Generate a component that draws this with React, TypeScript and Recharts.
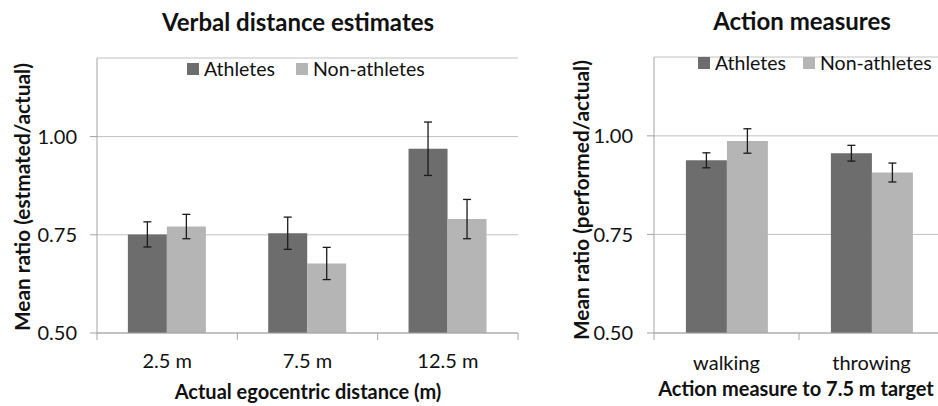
import { BarChart, Bar, XAxis, YAxis, CartesianGrid, ErrorBar, Legend } from "recharts"

const FONT = "Lato, 'Open Sans', sans-serif"
const DARK = "#6d6d6d"
const LIGHT = "#b5b5b5"
const AXIS = "#a3a3a3"
const GRID = "#c2c2c2"

// left panel: verbal estimates
const verbalCategories = ["2.5 m", "7.5 m", "12.5 m"]
const verbalAthletes = [0.751, 0.754, 0.969]
const verbalAthletesErr = [0.032, 0.041, 0.068]
const verbalNonAthletes = [0.771, 0.677, 0.79]
const verbalNonAthletesErr = [0.031, 0.041, 0.05]

// right panel: action measures
const actionCategories = ["walking", "throwing"]
const actionAthletes = [0.938, 0.956]
const actionAthletesErr = [0.019, 0.02]
const actionNonAthletes = [0.987, 0.907]
const actionNonAthletesErr = [0.031, 0.024]

const yTicks = [0.5, 0.75, 1.0]
const yDomain = [0.5, 1.2]

function buildRows(cats, ath, athErr, non, nonErr) {
  return cats.map((name, i) => ({
    name,
    athletes: ath[i],
    athletesErr: athErr[i],
    nonAthletes: non[i],
    nonAthletesErr: nonErr[i],
  }))
}

const verbalRows = buildRows(verbalCategories, verbalAthletes, verbalAthletesErr, verbalNonAthletes, verbalNonAthletesErr)
const actionRows = buildRows(actionCategories, actionAthletes, actionAthletesErr, actionNonAthletes, actionNonAthletesErr)

// category label plus excel-style tick marks at the band edges
function BoundaryTick(props) {
  const { x, y, payload, index, count, fallbackHalf, labelDy } = props
  const half = payload && payload.offset ? payload.offset : fallbackHalf
  const last = index === count - 1
  return (
    <g>
      <line x1={x - half} x2={x - half} y1={y} y2={y + 7} stroke={AXIS} />
      {last && <line x1={x + half} x2={x + half} y1={y} y2={y + 7} stroke={AXIS} />}
      <text x={x} y={y + labelDy} textAnchor="middle" fontSize={20} fontFamily={FONT} fill="#111">
        {payload.value}
      </text>
    </g>
  )
}

function makeLegend(gap) {
  return function LegendRow({ payload }) {
    return (
      <div style={{ display: "flex", alignItems: "center", fontFamily: FONT, fontSize: 19.5, lineHeight: "22px", whiteSpace: "nowrap", color: "#111" }}>
        {(payload || []).map((item, i) => (
          <div key={item.value} style={{ display: "flex", alignItems: "center", flexShrink: 0, marginLeft: i ? gap : 0 }}>
            <span style={{ display: "inline-block", flexShrink: 0, width: 12, height: 12, background: item.color, marginRight: 5 }} />
            <span style={{ flexShrink: 0 }}>{item.value}</span>
          </div>
        ))}
      </div>
    )
  }
}

function Panel({ rows, cats, width, top, right, yWidth, tickMargin, legendPos, legendGap, labelDy }) {
  const plotW = width - yWidth - right
  return (
    <BarChart width={width} height={406} data={rows} margin={{ top, right, bottom: 0, left: 0 }} barCategoryGap="22%" barGap={0}>
      <CartesianGrid vertical={false} stroke={GRID} />
      <XAxis
        dataKey="name"
        height={73}
        interval={0}
        axisLine={{ stroke: AXIS }}
        tickLine={false}
        tickSize={0}
        tickMargin={0}
        tick={(p) => <BoundaryTick {...p} count={cats.length} fallbackHalf={plotW / cats.length / 2} labelDy={labelDy} />}
      />
      <YAxis
        type="number"
        domain={yDomain}
        ticks={yTicks}
        interval={0}
        allowDataOverflow
        width={yWidth}
        tickFormatter={(v) => v.toFixed(2)}
        axisLine={{ stroke: AXIS }}
        tickLine={{ stroke: AXIS }}
        tickSize={7}
        tickMargin={tickMargin}
        tick={{ fill: "#111", fontSize: 20, fontFamily: FONT }}
      />
      <Legend
        layout="horizontal"
        verticalAlign="middle"
        align="center"
        content={makeLegend(legendGap)}
        wrapperStyle={{ left: legendPos[0], top: legendPos[1], width: 260 }}
      />
      <Bar dataKey="athletes" name="Athletes" fill={DARK} isAnimationActive={false}>
        <ErrorBar dataKey="athletesErr" width={4} stroke="#1a1a1a" strokeWidth={1.3} />
      </Bar>
      <Bar dataKey="nonAthletes" name="Non-athletes" fill={LIGHT} isAnimationActive={false}>
        <ErrorBar dataKey="nonAthletesErr" width={4} stroke="#1a1a1a" strokeWidth={1.3} />
      </Bar>
    </BarChart>
  )
}

export default function App() {
  const bold = { fontFamily: FONT, fontWeight: 700, fill: "#111" }
  return (
    <div style={{ position: "absolute", left: 0, top: 0, width: 938, height: 406, overflow: "hidden", background: "#fff" }}>
      <div style={{ position: "absolute", left: 0, top: 0 }}>
        <Panel rows={verbalRows} cats={verbalCategories} width={530} top={58} right={12} yWidth={97} tickMargin={13} legendPos={[187, 58]} legendGap={21} labelDy={35} />
      </div>
      <div style={{ position: "absolute", left: 540, top: 0 }}>
        <Panel rows={actionRows} cats={actionCategories} width={404} top={57} right={0} yWidth={114} tickMargin={14} legendPos={[158, 52]} legendGap={17} labelDy={37} />
      </div>
      <svg width={938} height={406} style={{ position: "absolute", left: 0, top: 0, pointerEvents: "none" }}>
        <text x={298} y={31} textAnchor="middle" fontSize={24} {...bold}>Verbal distance estimates</text>
        <text x={802} y={30} textAnchor="middle" fontSize={24} {...bold}>Action measures</text>
        <text x={308} y={399} textAnchor="middle" fontSize={20} {...bold}>Actual egocentric distance (m)</text>
        <text x={796} y={396} textAnchor="middle" fontSize={20} {...bold}>Action measure to 7.5 m target</text>
        <text x={0} y={0} textAnchor="middle" fontSize={20.8} transform="translate(30 197) rotate(-90)" {...bold}>Mean ratio (estmated/actual)</text>
        <text x={0} y={0} textAnchor="middle" fontSize={20.8} transform="translate(589 200) rotate(-90)" {...bold}>Mean ratio (performed/actual)</text>
      </svg>
    </div>
  )
}
